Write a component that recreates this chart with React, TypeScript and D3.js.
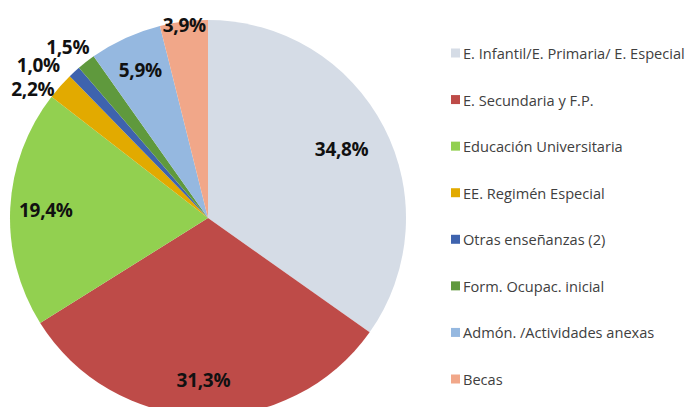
import React from "react";
import * as d3 from "d3";

const categories = [
  "E. Infantil/E. Primaria/ E. Especial",
  "E. Secundaria y F.P.",
  "Educación Universitaria",
  "EE. Regimén Especial",
  "Otras enseñanzas (2)",
  "Form. Ocupac. inicial",
  "Admón. /Actividades anexas",
  "Becas",
];
const values = [34.8, 31.3, 19.4, 2.2, 1.0, 1.5, 5.9, 3.9];
const labels = ["34,8%", "31,3%", "19,4%", "2,2%", "1,0%", "1,5%", "5,9%", "3,9%"];
const colors = [
  "#D5DCE6",
  "#BE4B48",
  "#92D050",
  "#E2AA00",
  "#3E63AE",
  "#5F993D",
  "#95B8E0",
  "#F1A789",
];

const W = 692;
const H = 407;
const cx = 208;
const cy = 218;
const R = 198;

export default function App() {
  const pie = d3.pie<number>().sort(null).value((d) => d)(values);
  const arc = d3.arc<d3.PieArcDatum<number>>().innerRadius(0).outerRadius(R);
  const legendY = d3
    .scalePoint<string>()
    .domain(categories)
    .range([53, 379]);

  return (
    <svg
      width={W}
      height={H}
      style={{ position: "absolute", left: 0, top: 0, background: "#fff" }}
    >
      <g transform={`translate(${cx},${cy})`}>
        {pie.map((p, i) => (
          <path key={i} d={arc(p) || ""} fill={colors[i]} />
        ))}
        {pie.map((p, i) => {
          const mid = (p.startAngle + p.endAngle) / 2;
          const v = values[i];
          let x: number, y: number, anchor: string;
          if (v < 3) {
            const r = R + 8;
            x = r * Math.sin(mid);
            y = -r * Math.cos(mid);
            anchor = "end";
            if (i === 3) { y += 8; }
            if (i === 4) { x -= 9; y -= 1; }
            if (i === 5) { x += 8; y -= 9; }
          } else if (v < 5) {
            const r = R * 0.98;
            x = r * Math.sin(mid);
            y = -r * Math.cos(mid);
            anchor = "middle";
          } else {
            const r = R * (v > 34 ? 0.76 : 0.82);
            x = r * Math.sin(mid);
            y = -r * Math.cos(mid);
            anchor = "middle";
          }
          return (
            <text
              key={i}
              x={x}
              y={y}
              textAnchor={anchor}
              dominantBaseline="central"
              fontFamily="'Open Sans', sans-serif"
              fontWeight="bold"
              fontSize={19}
              letterSpacing={-0.3}
              fill="#111"
            >
              {labels[i]}
            </text>
          );
        })}
      </g>
      {categories.map((c, i) => (
        <g key={c} transform={`translate(451,${legendY(c)})`}>
          <rect x={0} y={-4.5} width={9} height={9} fill={colors[i]} />
          <text
            x={12}
            y={0}
            dominantBaseline="central"
            fontFamily="'Open Sans', sans-serif"
            fontSize={14.6}
            fill="#404040"
          >
            {c}
          </text>
        </g>
      ))}
    </svg>
  );
}
